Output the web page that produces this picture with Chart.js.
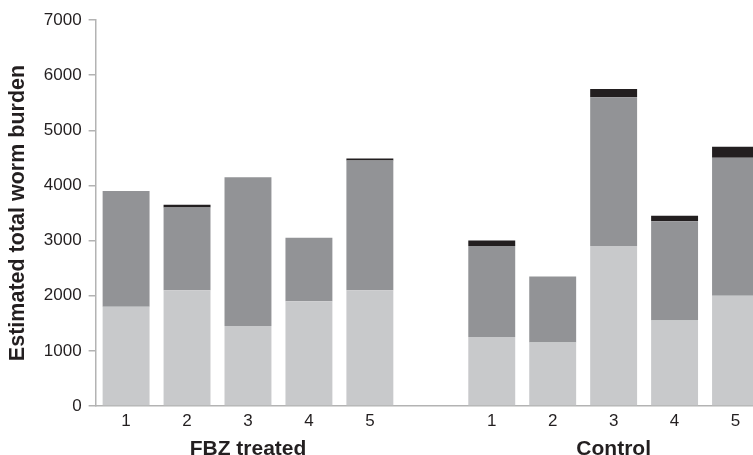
<!DOCTYPE html>
<html>
<head>
<meta charset="utf-8">
<script src="https://cdn.jsdelivr.net/npm/chart.js@4"></script>
<style>
  html, body { margin: 0; padding: 0; background: #fff; overflow: hidden; }
  #wrap { width: 753px; height: 455px; overflow: hidden; position: relative; }
  canvas { display: block; }
</style>
</head>
<body>
<div id="wrap"><canvas id="c" width="775" height="462"></canvas></div>
<script>
// Categories: five FBZ-treated animals, a spacer, five control animals
const animalLabels = ['1', '2', '3', '4', '5', '', '1', '2', '3', '4', '5'];
const groupLabels = ['', '', 'FBZ treated', '', '', '', '', '', 'Control', '', ''];

// Stacked worm burden components (bottom, middle, top)
const fbzLower  = [1800, 2100, 1450, 1900, 2100];
const fbzMiddle = [2100, 1500, 2700, 1150, 2350];
const fbzUpper  = [0, 50, 0, 0, 40];

const ctrlLower  = [1250, 1150, 2900, 1550, 2000];
const ctrlMiddle = [1650, 1200, 2700, 1800, 2500];
const ctrlUpper  = [100, 0, 150, 100, 200];

const yTicks = [0, 1000, 2000, 3000, 4000, 5000, 6000, 7000];

const join = (a, b) => [...a, null, ...b];

const txt = '#231f20';
const axisCol = '#b3b3b3';
const fam = 'Liberation Sans';

new Chart(document.getElementById('c'), {
  type: 'bar',
  data: {
    labels: animalLabels,
    datasets: [
      { data: join(fbzLower, ctrlLower), backgroundColor: '#c8c9cb', barPercentage: 0.77, categoryPercentage: 1 },
      { data: join(fbzMiddle, ctrlMiddle), backgroundColor: '#929396', barPercentage: 0.77, categoryPercentage: 1 },
      { data: join(fbzUpper, ctrlUpper), backgroundColor: '#231f20', barPercentage: 0.77, categoryPercentage: 1 }
    ]
  },
  options: {
    responsive: false,
    animation: false,
    layout: { padding: { top: 20, right: 9, left: 5, bottom: 0 } },
    plugins: { legend: { display: false }, tooltip: { enabled: false } },
    scales: {
      x: {
        stacked: true,
        grid: { display: true, drawOnChartArea: false, drawTicks: false },
        border: { display: true, color: axisCol, width: 1.5 },
        ticks: { color: txt, font: { family: fam, size: 17, lineHeight: 1.0 }, padding: 7, maxRotation: 0, autoSkip: false }
      },
      x2: {
        type: 'category',
        labels: groupLabels,
        position: 'bottom',
        grid: { display: false, drawTicks: false },
        border: { display: false },
        ticks: { color: txt, font: { family: fam, size: 21, weight: 'bold', lineHeight: 1.0 }, padding: 2, maxRotation: 0, autoSkip: false }
      },
      y: {
        stacked: true,
        min: 0,
        max: 7000,
        afterBuildTicks: (axis) => { axis.ticks = yTicks.map(v => ({ value: v })); },
        grid: { display: true, drawOnChartArea: false, drawTicks: true, tickLength: 7, color: axisCol, lineWidth: 1.5 },
        border: { display: true, color: axisCol, width: 1.5 },
        ticks: { color: txt, font: { family: fam, size: 17 }, padding: 7, callback: (v) => String(v) },
        title: { display: true, text: 'Estimated total worm burden', color: txt, font: { family: fam, size: 21.5, weight: 'bold' }, padding: { top: 0, bottom: 6 } }
      }
    }
  }
});
</script>
</body>
</html>
